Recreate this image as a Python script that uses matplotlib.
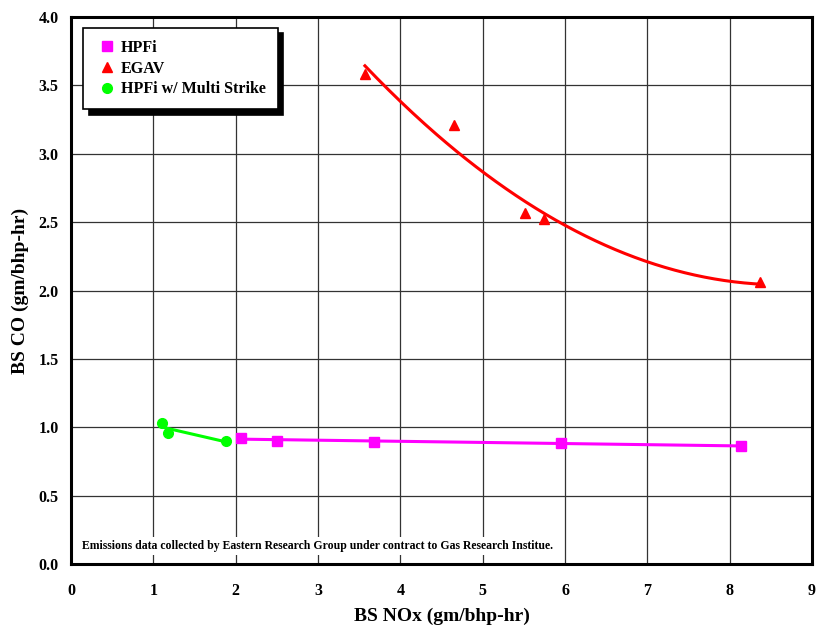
import numpy as np
import matplotlib
matplotlib.use('Agg')
import matplotlib.pyplot as plt

plt.rcParams['font.family'] = ['Liberation Serif', 'DejaVu Serif']
plt.rcParams['font.weight'] = 'bold'

# HPFi
hpfi_nox = [2.06, 2.50, 3.68, 5.95, 8.14]
hpfi_co = [0.924, 0.900, 0.895, 0.885, 0.863]
# EGAV
egav_nox = [3.57, 4.65, 5.51, 5.75, 8.37]
egav_co = [3.58, 3.21, 2.57, 2.52, 2.06]
# HPFi w/ Multi Strike
multi_nox = [1.10, 1.18, 1.88]
multi_co = [1.033, 0.956, 0.897]

note = 'Emissions data collected by Eastern Research Group under contract to Gas Research Institue.'

fig = plt.figure(figsize=(8.17, 6.28), dpi=100)
ax = fig.add_axes([0.0869, 0.1019, 0.9070, 0.8710])

def trend(x, y, deg, color, lw):
    c = np.polyfit(x, y, deg)
    xs = np.linspace(min(x), max(x), 200)
    ax.plot(xs, np.polyval(c, xs), color=color, lw=lw, zorder=3)

trend(hpfi_nox, hpfi_co, 1, '#ff00ff', 2.2)
trend(egav_nox, egav_co, 2, '#ff0000', 2.2)
trend(multi_nox, multi_co, 1, '#00ff00', 2.2)

ax.plot(hpfi_nox, hpfi_co, 's', color='#ff00ff', ms=7, ls='none', label='HPFi', zorder=4)
ax.plot(egav_nox, egav_co, '^', color='#ff0000', ms=7.5, ls='none', label='EGAV', zorder=4)
ax.plot(multi_nox, multi_co, 'o', color='#00ff00', ms=7, ls='none', label='HPFi w/ Multi Strike', zorder=4)

ax.set_xlim(0, 9)
ax.set_ylim(0, 4)
ax.set_xticks(range(10))
ax.set_yticks(np.arange(0, 4.01, 0.5))
ax.set_yticklabels([f'{v:.1f}' for v in np.arange(0, 4.01, 0.5)])
ax.grid(True, color='#333333', lw=0.9)
ax.set_axisbelow(True)
ax.tick_params(axis='both', length=0, labelsize=11.5)
ax.tick_params(axis='x', pad=14)
ax.tick_params(axis='y', pad=9)
for s in ax.spines.values():
    s.set_linewidth(2.2)
    s.set_color('black')

ax.set_xlabel('BS NOx (gm/bhp-hr)', fontsize=14, fontweight='bold', labelpad=6)
ax.set_ylabel('BS CO (gm/bhp-hr)', fontsize=14, fontweight='bold', labelpad=7)

leg = ax.legend(loc='upper left', bbox_to_anchor=(0.006, 0.995), fontsize=11.5,
                frameon=True, fancybox=False, edgecolor='black', framealpha=1,
                handletextpad=0.2, handlelength=1.4, borderpad=0.75, labelspacing=0.3,
                borderaxespad=0.5,
                shadow={'color': 'black', 'alpha': 1, 'ox': 4, 'oy': -4})
leg.get_frame().set_linewidth(1.2)
for t in leg.get_texts():
    t.set_fontweight('bold')

ax.text(0.015, 0.022, note, transform=ax.transAxes, fontsize=8.5, fontweight='bold',
        ha='left', va='bottom', zorder=5,
        bbox=dict(facecolor='white', edgecolor='none', pad=2))

fig.savefig('out.png', dpi=100)
